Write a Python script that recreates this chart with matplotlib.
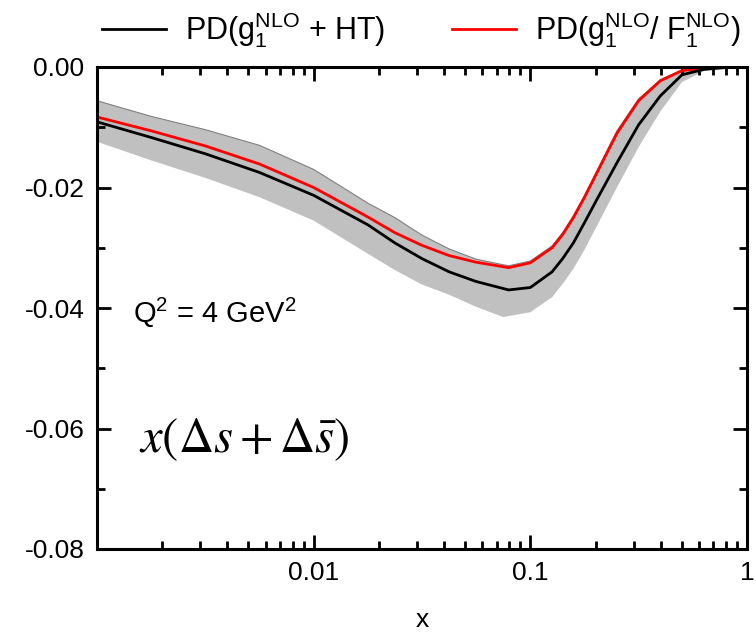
import numpy as np
import matplotlib
matplotlib.use("Agg")
import matplotlib.pyplot as plt
from matplotlib.ticker import FixedLocator, FormatStrFormatter, MultipleLocator, NullFormatter

plt.rcParams['font.family'] = ['Liberation Sans', 'DejaVu Sans']
plt.rcParams['mathtext.fontset'] = 'custom'
plt.rcParams['mathtext.rm'] = 'Liberation Sans'
plt.rcParams['mathtext.it'] = 'Liberation Sans'
plt.rcParams['axes.unicode_minus'] = False

# ---- data ----
x_grid = [0.001, 0.00178, 0.00316, 0.00562, 0.01, 0.0178, 0.0237, 0.0316, 0.0422, 0.0562,
          0.0794, 0.1, 0.126, 0.141, 0.158, 0.178, 0.2, 0.251, 0.316, 0.398,
          0.501, 0.631, 0.794, 1.0]

y_black = [-0.0091, -0.0117, -0.0144, -0.0175, -0.0213, -0.0262, -0.0292, -0.0318, -0.0340, -0.0356,
           -0.0370, -0.0366, -0.0340, -0.0318, -0.0292, -0.0258, -0.0224, -0.0159, -0.0096, -0.0048,
           -0.0013, -0.0004, -0.0001, 0.0]

y_red = [-0.0083, -0.0106, -0.0131, -0.0161, -0.0200, -0.0249, -0.0275, -0.0296, -0.0313, -0.0324,
         -0.0333, -0.0325, -0.0300, -0.0278, -0.0250, -0.0216, -0.0180, -0.0110, -0.0056, -0.0023,
         -0.0006, -0.0002, 0.0, 0.0]

y_band_top = [-0.0056, -0.0082, -0.0104, -0.0130, -0.0170, -0.0226, -0.0250, -0.0279, -0.0302, -0.0319,
              -0.0330, -0.0322, -0.0297, -0.0275, -0.0247, -0.0213, -0.0177, -0.0106, -0.0053, -0.0021,
              -0.0005, -0.0001, 0.0, 0.0]

x_band_bot = [0.001, 0.00178, 0.00316, 0.00562, 0.01, 0.0178, 0.0237, 0.0316, 0.0422, 0.0562,
              0.0750, 0.1, 0.126, 0.141, 0.158, 0.178, 0.2, 0.251, 0.316, 0.398,
              0.501, 0.631, 0.794, 1.0]
y_band_bot = [-0.0124, -0.0155, -0.0184, -0.0216, -0.0255, -0.0310, -0.0337, -0.0361, -0.0378, -0.0398,
              -0.0415, -0.0407, -0.0382, -0.0360, -0.0335, -0.0303, -0.0268, -0.0200, -0.0133, -0.0074,
              -0.0025, -0.0007, -0.0001, 0.0]

x_tick_vals = [0.01, 0.1, 1]
x_tick_labels = ['0.01', '0.1', '1']
legend_labels = [r'PD(g$_1^{\rm NLO}$ + HT)', r'PD(g$_1^{\rm NLO}$/ F$_1^{\rm NLO}$)']

# ---- figure ----
fig = plt.figure(figsize=(7.56, 6.35), dpi=100)
ax = fig.add_axes([97/756, 1-549/635, (747-97)/756, (549-67)/635])

ax.fill(np.concatenate([x_grid, x_band_bot[::-1]]),
        np.concatenate([y_band_top, y_band_bot[::-1]]),
        facecolor='#c0c0c0', edgecolor='none', zorder=1)
ax.plot(x_grid, y_band_top, color='#808080', lw=0.8, zorder=1.5)
l_red, = ax.plot(x_grid, y_red, color='#ff0000', lw=2.0, zorder=2)
l_black, = ax.plot(x_grid, y_black, color='black', lw=2.0, zorder=3)

ax.set_xscale('log')
ax.set_xlim(0.001, 1)
ax.set_ylim(-0.08, 0.0)

ax.xaxis.set_major_locator(FixedLocator(x_tick_vals))
ax.set_xticklabels(x_tick_labels)
minors = [m * 10.0**e for e in (-3, -2, -1) for m in range(2, 10)]
ax.xaxis.set_minor_locator(FixedLocator(minors))
ax.xaxis.set_minor_formatter(NullFormatter())
ax.yaxis.set_major_locator(MultipleLocator(0.02))
ax.yaxis.set_minor_locator(MultipleLocator(0.01))
ax.yaxis.set_major_formatter(FormatStrFormatter('%.2f'))

ax.tick_params(which='both', direction='in', top=True, right=True, width=2.0)
ax.tick_params(which='major', length=10, labelsize=19, pad=9)
ax.tick_params(which='minor', length=6)
for s in ax.spines.values():
    s.set_linewidth(2.2)

ax.set_xlabel('x', fontsize=19, labelpad=16)

ax.text(0.055, 0.49, r'Q$^2$ = 4 GeV$^2$', transform=ax.transAxes, fontsize=21,
        ha='left', va='center')
ax.text(0.065, 0.226, r'$x(\Delta s+\Delta \bar{s})$', transform=ax.transAxes, fontsize=35,
        ha='left', va='center', math_fontfamily='stix')

fig.legend([l_black, l_red], legend_labels, loc='center', bbox_to_anchor=(0.557, 0.953),
           ncol=2, frameon=False, fontsize=22, handlelength=2.1, columnspacing=2.2,
           handletextpad=0.6, borderpad=0.0, borderaxespad=0.0)

fig.savefig('out.png', dpi=100)
